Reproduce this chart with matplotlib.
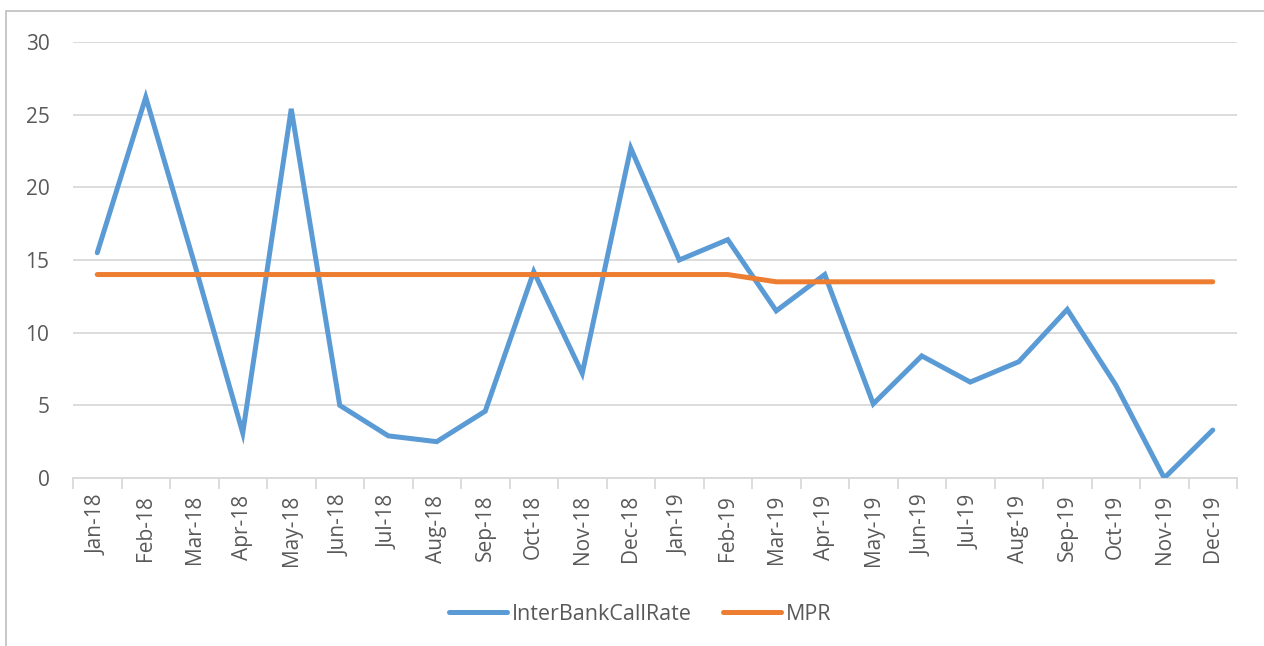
import matplotlib
matplotlib.use("Agg")
import matplotlib.pyplot as plt
from matplotlib.patches import Rectangle

months = ["Jan-18", "Feb-18", "Mar-18", "Apr-18", "May-18", "Jun-18", "Jul-18", "Aug-18",
          "Sep-18", "Oct-18", "Nov-18", "Dec-18", "Jan-19", "Feb-19", "Mar-19", "Apr-19",
          "May-19", "Jun-19", "Jul-19", "Aug-19", "Sep-19", "Oct-19", "Nov-19", "Dec-19"]
interbank_call_rate = [15.5, 26.2, 14.8, 3.1, 25.4, 5.0, 2.9, 2.5, 4.6, 14.2, 7.2, 22.7,
                       15.0, 16.4, 11.5, 14.0, 5.1, 8.4, 6.6, 8.0, 11.6, 6.4, 0.0, 3.3]
mpr = [14.0] * 14 + [13.5] * 10
y_ticks = [0, 5, 10, 15, 20, 25, 30]

BLUE = "#5B9BD5"
ORANGE = "#ED7D31"
GRID = "#D9D9D9"
TEXT = "#595959"

plt.rcParams["font.family"] = ["Open Sans", "DejaVu Sans"]

W, H = 1264, 646
fig = plt.figure(figsize=(W / 100, H / 100), dpi=100)

# chart area frame
fig.patches.append(Rectangle((6 / W, -0.05), 1.2, 1 - 11 / H + 0.05, transform=fig.transFigure,
                             fill=False, edgecolor="#BFBFBF", linewidth=1.2))

ax = fig.add_axes([73 / W, 1 - 478 / H, (1237 - 73) / W, (478 - 42) / H])
x = list(range(len(months)))
ax.plot(x, interbank_call_rate, color=BLUE, linewidth=3.6, solid_capstyle="round",
        solid_joinstyle="miter", label="InterBankCallRate", zorder=3)
ax.plot(x, mpr, color=ORANGE, linewidth=3.6, solid_capstyle="round",
        label="MPR", zorder=3)

ax.set_xlim(-0.5, len(months) - 0.5)
ax.set_ylim(0, 30)
ax.set_yticks(y_ticks)
ax.yaxis.grid(True, color=GRID, linewidth=1.3)
ax.set_axisbelow(True)
for side in ("top", "right", "left"):
    ax.spines[side].set_visible(False)
ax.spines["bottom"].set_color(GRID)
ax.spines["bottom"].set_linewidth(1.3)

ax.tick_params(axis="y", length=0, pad=17, labelsize=15, labelcolor=TEXT)
ax.set_xticks(x)
ax.set_xticklabels(months, rotation=90)
ax.tick_params(axis="x", which="major", length=0, pad=12, labelsize=15, labelcolor=TEXT)
ax.set_xticks([i - 0.5 for i in range(len(months) + 1)], minor=True)
ax.tick_params(axis="x", which="minor", length=8, width=1.3, color=GRID)
for lab in ax.get_yticklabels():
    lab.set_horizontalalignment("right")

leg = fig.legend(loc="center", bbox_to_anchor=(640 / W, 1 - 614 / H), ncol=2, frameon=False,
                 fontsize=15.5, handlelength=2.7, handletextpad=0.23, columnspacing=1.45)
for t in leg.get_texts():
    t.set_color(TEXT)

fig.savefig("out.png", dpi=100)
